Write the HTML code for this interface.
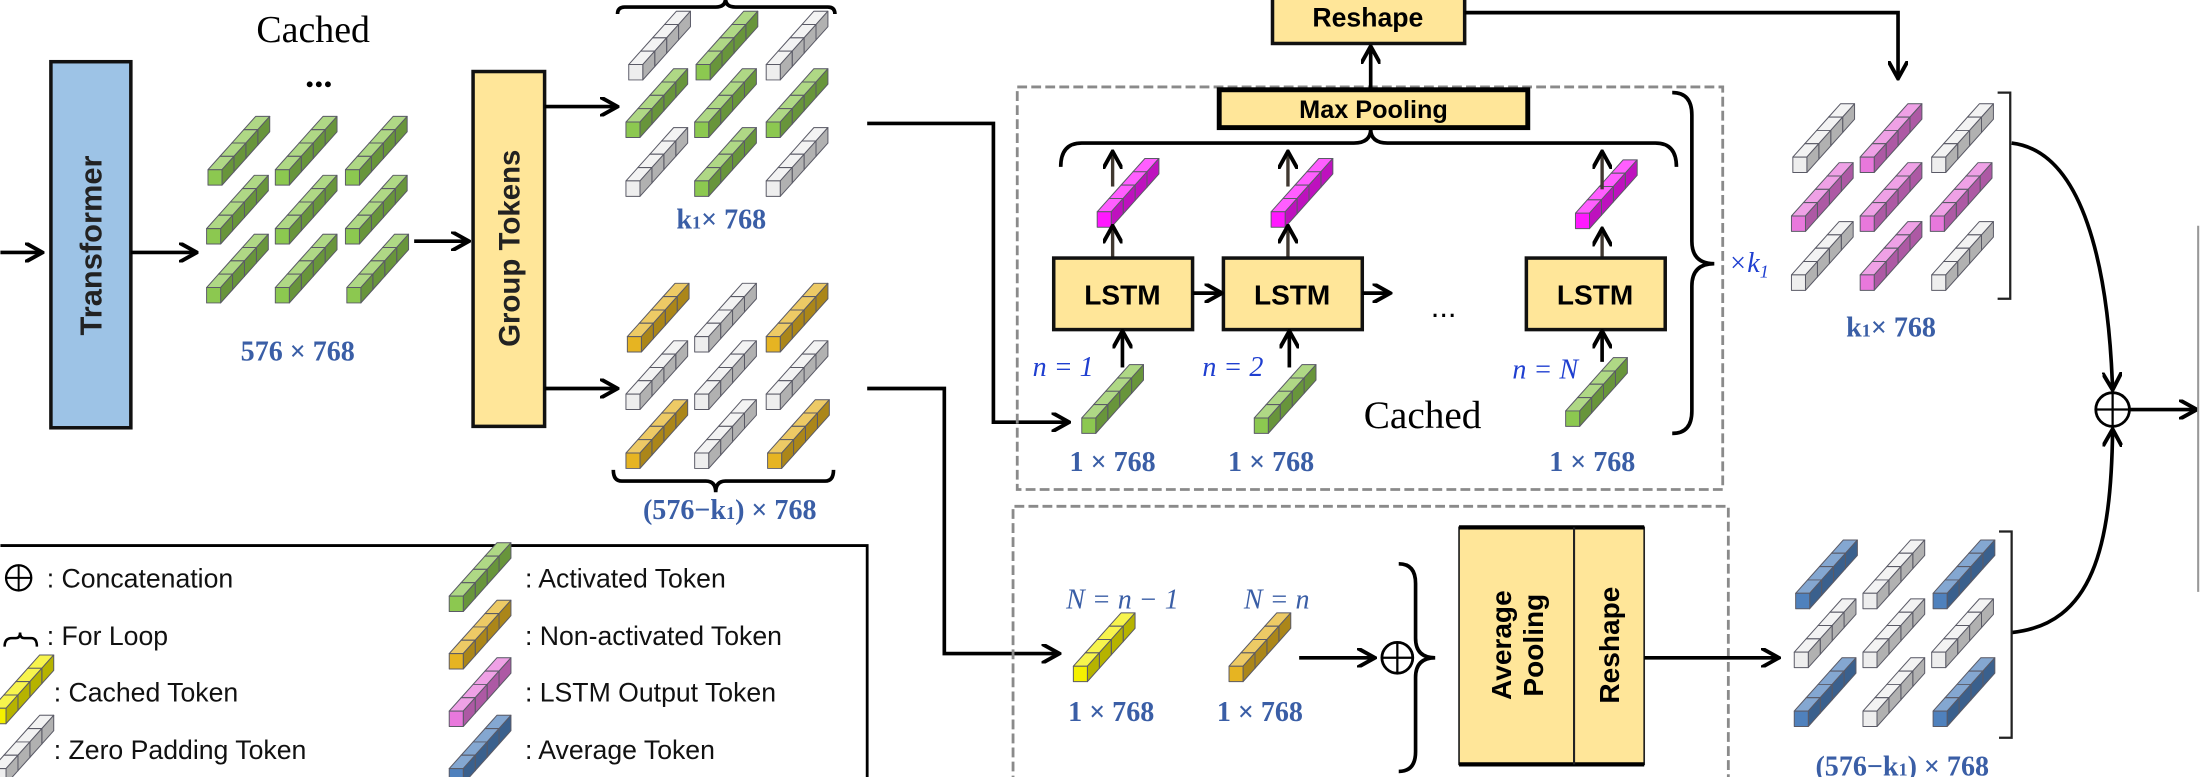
<!DOCTYPE html>
<html><head><meta charset="utf-8"><style>
html,body{margin:0;padding:0;background:#fff;}
svg{display:block;}
.sans{font-family:"Liberation Sans",Arial,sans-serif;}
.serif{font-family:"Liberation Serif","Times New Roman",serif;}
.dim{font-family:"Liberation Serif",serif;fill:#3a5ea6;font-size:20px;font-weight:bold;}
.ln{stroke:#000;stroke-width:2.6;fill:none;}
.box{stroke:#111;stroke-width:2.5;}
</style></head><body>
<svg width="2200" height="777" viewBox="0 0 1568 554" xmlns="http://www.w3.org/2000/svg">
<defs>
<marker id="ar" viewBox="0 0 10 10" refX="9" refY="5" markerWidth="5" markerHeight="5" orient="auto" markerUnits="userSpaceOnUse" style="overflow:visible">
<path d="M0,0 L9,5 L0,10" fill="none" stroke="#000" stroke-width="2.2"/>
</marker>
<marker id="ar2" viewBox="0 0 10 10" refX="9" refY="5" markerWidth="14" markerHeight="14" orient="auto" markerUnits="userSpaceOnUse">
<path d="M0,0 L9,5 L0,10" fill="none" stroke="#000" stroke-width="2"/>
</marker>
<g id="bar" stroke="#5a5a66" stroke-width="0.7" stroke-linejoin="round">
<polygon points="25.5,9.5 35.5,9.5 44,0 34,0" fill="currentColor"/><polygon points="25.5,9.5 35.5,9.5 44,0 34,0" fill="#fff" opacity="0.3"/>
<polygon points="35.5,20.5 35.5,9.5 44,0 44,11" fill="currentColor"/><polygon points="35.5,20.5 35.5,9.5 44,0 44,11" fill="#000" opacity="0.25"/>
<rect x="25.5" y="9.5" width="10" height="11" fill="currentColor"/>
<polygon points="17,19 27,19 35.5,9.5 25.5,9.5" fill="currentColor"/><polygon points="17,19 27,19 35.5,9.5 25.5,9.5" fill="#fff" opacity="0.3"/>
<polygon points="27,30 27,19 35.5,9.5 35.5,20.5" fill="currentColor"/><polygon points="27,30 27,19 35.5,9.5 35.5,20.5" fill="#000" opacity="0.25"/>
<rect x="17" y="19" width="10" height="11" fill="currentColor"/>
<polygon points="8.5,28.5 18.5,28.5 27,19 17,19" fill="currentColor"/><polygon points="8.5,28.5 18.5,28.5 27,19 17,19" fill="#fff" opacity="0.3"/>
<polygon points="18.5,39.5 18.5,28.5 27,19 27,30" fill="currentColor"/><polygon points="18.5,39.5 18.5,28.5 27,19 27,30" fill="#000" opacity="0.25"/>
<rect x="8.5" y="28.5" width="10" height="11" fill="currentColor"/>
<polygon points="0,38 10,38 18.5,28.5 8.5,28.5" fill="currentColor"/><polygon points="0,38 10,38 18.5,28.5 8.5,28.5" fill="#fff" opacity="0.3"/>
<polygon points="10,49 10,38 18.5,28.5 18.5,39.5" fill="currentColor"/><polygon points="10,49 10,38 18.5,28.5 18.5,39.5" fill="#000" opacity="0.25"/>
<rect x="0" y="38" width="10" height="11" fill="currentColor"/>
</g>
</defs>

<!-- input arrow & transformer -->
<line x1="0" y1="180" x2="30" y2="180" class="ln" marker-end="url(#ar2)"/>
<rect x="36" y="44" width="57" height="261" fill="#9dc3e6" class="box"/>
<text class="sans" font-weight="bold" font-size="22" fill="#222" transform="translate(72,175) rotate(-90)" text-anchor="middle">Transformer</text>
<line x1="93" y1="180" x2="140" y2="180" class="ln" marker-end="url(#ar2)"/>

<text class="serif" font-size="27" x="223" y="30" text-anchor="middle">Cached</text>
<text class="serif" font-size="26" font-weight="bold" x="227" y="62" text-anchor="middle">...</text>

<!-- green grid -->
<g style="color:#8cc850">
<use href="#bar" x="148" y="83"/><use href="#bar" x="196" y="83"/><use href="#bar" x="246" y="83"/>
<use href="#bar" x="147" y="125"/><use href="#bar" x="196" y="125"/><use href="#bar" x="246" y="125"/>
<use href="#bar" x="147" y="167"/><use href="#bar" x="196" y="167"/><use href="#bar" x="247" y="167"/>
</g>
<text class="dim" x="212" y="257" text-anchor="middle">576 × 768</text>
<line x1="295" y1="172" x2="334" y2="172" class="ln" marker-end="url(#ar2)"/>

<rect x="337" y="51" width="51" height="253" fill="#ffe699" class="box"/>
<text class="sans" font-weight="bold" font-size="21" fill="#222" transform="translate(370,177) rotate(-90)" text-anchor="middle">Group Tokens</text>
<line x1="388" y1="76" x2="440" y2="76" class="ln" marker-end="url(#ar2)"/>
<line x1="388" y1="277" x2="440" y2="277" class="ln" marker-end="url(#ar2)"/>

<!-- upper k1 grid -->
<path d="M440,10 q0,-5 5,-5 L510,5 q7,0 7,-6 q0,6 7,6 L590,5 q5,0 5,5" class="ln" stroke-width="2.2"/>
<use href="#bar" x="448" y="8" style="color:#eeeeee"/><use href="#bar" x="496" y="8" style="color:#8cc850"/><use href="#bar" x="546" y="8" style="color:#eeeeee"/>
<use href="#bar" x="446" y="49" style="color:#8cc850"/><use href="#bar" x="495" y="49" style="color:#8cc850"/><use href="#bar" x="546" y="49" style="color:#8cc850"/>
<use href="#bar" x="446" y="91" style="color:#eeeeee"/><use href="#bar" x="495" y="91" style="color:#8cc850"/><use href="#bar" x="546" y="91" style="color:#eeeeee"/>
<text class="dim" x="514" y="163" text-anchor="middle">k<tspan font-size="13">1</tspan>× 768</text>

<!-- lower grid -->
<use href="#bar" x="447" y="202" style="color:#e6b422"/><use href="#bar" x="495" y="202" style="color:#eeeeee"/><use href="#bar" x="546" y="202" style="color:#e6b422"/>
<use href="#bar" x="446" y="243" style="color:#eeeeee"/><use href="#bar" x="495" y="243" style="color:#eeeeee"/><use href="#bar" x="546" y="243" style="color:#eeeeee"/>
<use href="#bar" x="446" y="285" style="color:#e6b422"/><use href="#bar" x="495" y="285" style="color:#eeeeee"/><use href="#bar" x="547" y="285" style="color:#e6b422"/>
<path d="M437,335 q0,8 6,8 L503,343 q7,0 7,8 q0,-8 7,-8 L588,343 q6,0 6,-8" class="ln" stroke-width="2.2"/>
<text class="dim" x="520" y="370" text-anchor="middle">(576−k<tspan font-size="13">1</tspan>) × 768</text>

<!-- connectors from grids -->
<polyline points="618,88 708,88 708,301 762,301" class="ln" marker-end="url(#ar2)"/>
<polyline points="618,277 673,277 673,466 755,466" class="ln" marker-end="url(#ar2)"/>

<!-- upper dashed box -->
<rect x="725" y="62" width="503" height="287" fill="none" stroke="#8a8a8a" stroke-width="2" stroke-dasharray="7,3"/>
<rect x="907" y="-4" width="137" height="35" fill="#ffe699" class="box"/>
<text class="sans" font-weight="bold" font-size="19" x="975" y="19" text-anchor="middle">Reshape</text>
<line x1="977" y1="64" x2="977" y2="33" class="ln" marker-end="url(#ar2)"/>
<polyline points="1044,9 1353,9 1353,56" class="ln" marker-end="url(#ar2)"/>
<rect x="869" y="64" width="220" height="27" fill="#ffe699" stroke="#000" stroke-width="3.5"/>
<text class="sans" font-weight="bold" font-size="18" x="979" y="84" text-anchor="middle">Max Pooling</text>
<path d="M756,119 q0,-17 15,-17 L965,102 q12,0 12,-10 q0,10 12,10 L1180,102 q15,0 15,17" class="ln"/>

<!-- magenta -->
<g style="color:#ff18ff">
<use href="#bar" x="782" y="113"/><use href="#bar" x="906" y="113"/><use href="#bar" x="1123" y="114"/>
</g>
<g stroke="#403830" stroke-width="2.4">
<line x1="793" y1="133" x2="793" y2="108" marker-end="url(#ar2)"/>
<line x1="918" y1="133" x2="918" y2="108" marker-end="url(#ar2)"/>
<line x1="1142" y1="135" x2="1142" y2="108" marker-end="url(#ar2)"/>
<line x1="793" y1="184" x2="793" y2="161" marker-end="url(#ar2)"/>
<line x1="918" y1="184" x2="918" y2="161" marker-end="url(#ar2)"/>
<line x1="1142" y1="184" x2="1142" y2="163" marker-end="url(#ar2)"/>
</g>

<!-- LSTM -->
<rect x="751" y="184" width="99" height="51" fill="#ffe699" class="box"/>
<rect x="872" y="184" width="99" height="51" fill="#ffe699" class="box"/>
<rect x="1088" y="184" width="99" height="51" fill="#ffe699" class="box"/>
<g class="sans" font-weight="bold" font-size="20" text-anchor="middle">
<text x="800" y="217">LSTM</text><text x="921" y="217">LSTM</text><text x="1137" y="217">LSTM</text>
</g>
<line x1="850" y1="209" x2="871" y2="209" class="ln" marker-end="url(#ar2)"/>
<line x1="971" y1="209" x2="991" y2="209" class="ln" marker-end="url(#ar2)"/>
<text class="sans" font-size="22" x="1029" y="226" text-anchor="middle">...</text>

<!-- input green bars -->
<line x1="800" y1="262" x2="800" y2="236" class="ln" marker-end="url(#ar2)"/>
<line x1="919" y1="262" x2="919" y2="236" class="ln" marker-end="url(#ar2)"/>
<line x1="1142" y1="258" x2="1142" y2="236" class="ln" marker-end="url(#ar2)"/>
<g style="color:#8cc850">
<use href="#bar" x="771" y="260"/><use href="#bar" x="894" y="260"/><use href="#bar" x="1116" y="255"/>
</g>
<g class="serif" font-style="italic" font-size="20" fill="#1f3fd0">
<text x="736" y="268">n = 1</text><text x="857" y="268">n = 2</text><text x="1078" y="270">n = N</text>
</g>
<text class="serif" font-size="28" x="1014" y="305" text-anchor="middle">Cached</text>
<g class="dim" text-anchor="middle"><text x="793" y="336">1 × 768</text><text x="906" y="336">1 × 768</text><text x="1135" y="336">1 × 768</text></g>

<path d="M1192,66 q14,0 14,16 L1206,172 q0,16 16,16 q-16,0 -16,16 L1206,293 q0,16 -14,16" class="ln"/>
<text class="serif" font-style="italic" font-size="20" fill="#1f3fd0" x="1232" y="194">×k<tspan font-size="13" dy="4">1</tspan></text>

<!-- pink grid -->
<use href="#bar" x="1278" y="74" style="color:#eeeeee"/><use href="#bar" x="1326" y="74" style="color:#e878dc"/><use href="#bar" x="1377" y="74" style="color:#eeeeee"/>
<use href="#bar" x="1277" y="116" style="color:#e878dc"/><use href="#bar" x="1326" y="116" style="color:#e878dc"/><use href="#bar" x="1376" y="116" style="color:#e878dc"/>
<use href="#bar" x="1277" y="158" style="color:#eeeeee"/><use href="#bar" x="1326" y="158" style="color:#e878dc"/><use href="#bar" x="1377" y="158" style="color:#eeeeee"/>
<polyline points="1424,66 1433,66 1433,213 1424,213" fill="none" stroke="#222" stroke-width="1.6"/>
<text class="dim" x="1348" y="240" text-anchor="middle">k<tspan font-size="13">1</tspan>× 768</text>

<!-- concat -->
<path d="M1434,102 C1485,108 1503,190 1506,278" class="ln" marker-end="url(#ar2)"/>
<path d="M1434,451 C1492,445 1505,390 1506,306" class="ln" marker-end="url(#ar2)"/>
<circle cx="1506" cy="292" r="12" fill="#fff" stroke="#000" stroke-width="2"/>
<line x1="1494" y1="292" x2="1518" y2="292" stroke="#000" stroke-width="1.6"/>
<line x1="1506" y1="280" x2="1506" y2="304" stroke="#000" stroke-width="1.6"/>
<line x1="1518" y1="292" x2="1566" y2="292" class="ln" marker-end="url(#ar2)"/>
<line x1="1567" y1="161" x2="1567" y2="422" stroke="#999" stroke-width="1.5"/>

<!-- lower dashed box -->
<path d="M722,560 L722,361 L1232,361 L1232,560" fill="none" stroke="#8a8a8a" stroke-width="2" stroke-dasharray="7,3"/>
<text class="serif" font-style="italic" font-size="20" fill="#3a5ea6" x="800" y="434" text-anchor="middle">N = n − 1</text>
<text class="serif" font-style="italic" font-size="20" fill="#3a5ea6" x="910" y="434" text-anchor="middle">N = n</text>
<use href="#bar" x="765" y="437" style="color:#f4f000"/>
<use href="#bar" x="876" y="437" style="color:#e6b422"/>
<g class="dim" text-anchor="middle"><text x="792" y="514">1 × 768</text><text x="898" y="514">1 × 768</text></g>
<line x1="926" y1="469" x2="980" y2="469" class="ln" marker-end="url(#ar2)"/>
<circle cx="996" cy="469" r="11" fill="#fff" stroke="#000" stroke-width="2"/>
<line x1="985" y1="469" x2="1007" y2="469" stroke="#000" stroke-width="1.6"/>
<line x1="996" y1="458" x2="996" y2="480" stroke="#000" stroke-width="1.6"/>
<path d="M997,402 q12,0 12,14 L1009,455 q0,14 14,14 q-14,0 -14,14 L1009,536 q0,14 -12,14" class="ln"/>
<rect x="1040" y="376" width="132" height="169" fill="#ffe699" stroke="#222" stroke-width="1.2"/>
<line x1="1040" y1="376" x2="1172" y2="376" stroke="#000" stroke-width="3"/>
<line x1="1040" y1="545" x2="1172" y2="545" stroke="#000" stroke-width="3"/>
<line x1="1122" y1="376" x2="1122" y2="545" stroke="#222" stroke-width="1.5"/>
<g class="sans" font-weight="bold" font-size="20" text-anchor="middle">
<text transform="translate(1077,460) rotate(-90)">Average</text>
<text transform="translate(1100,460) rotate(-90)">Pooling</text>
<text transform="translate(1154,460) rotate(-90)">Reshape</text>
</g>
<line x1="1172" y1="469" x2="1268" y2="469" class="ln" marker-end="url(#ar2)"/>

<!-- blue grid -->
<use href="#bar" x="1280" y="385" style="color:#4f81bd"/><use href="#bar" x="1328" y="385" style="color:#eeeeee"/><use href="#bar" x="1378" y="385" style="color:#4f81bd"/>
<use href="#bar" x="1279" y="427" style="color:#eeeeee"/><use href="#bar" x="1328" y="427" style="color:#eeeeee"/><use href="#bar" x="1377" y="427" style="color:#eeeeee"/>
<use href="#bar" x="1279" y="469" style="color:#4f81bd"/><use href="#bar" x="1328" y="469" style="color:#eeeeee"/><use href="#bar" x="1378" y="469" style="color:#4f81bd"/>
<polyline points="1425,379 1434,379 1434,526 1425,526" fill="none" stroke="#222" stroke-width="1.6"/>
<text class="dim" x="1356" y="553" text-anchor="middle">(576−k<tspan font-size="13">1</tspan>) × 768</text>

<!-- legend -->
<polyline points="0,389 618,389 618,560" fill="none" stroke="#000" stroke-width="2"/>
<circle cx="13" cy="412" r="9" fill="none" stroke="#000" stroke-width="1.6"/>
<line x1="4" y1="412" x2="22" y2="412" stroke="#000" stroke-width="1.4"/>
<line x1="13" y1="403" x2="13" y2="421" stroke="#000" stroke-width="1.4"/>
<path d="M3,461 q0,-6 5,-6 L11,455 q3,0 3,-4 q0,4 3,4 L22,455 q4,0 4,6" fill="none" stroke="#000" stroke-width="1.8"/>
<use href="#bar" x="-6" y="467" style="color:#f4f000"/>
<use href="#bar" x="-6" y="510" style="color:#eeeeee"/>
<use href="#bar" x="320" y="387" style="color:#8cc850"/>
<use href="#bar" x="320" y="428" style="color:#e6b422"/>
<use href="#bar" x="320" y="469" style="color:#e878dc"/>
<use href="#bar" x="320" y="510" style="color:#4f81bd"/>
<g class="sans" font-size="19" fill="#111">
<text x="33" y="419">: Concatenation</text>
<text x="33" y="460">: For Loop</text>
<text x="38" y="500">: Cached Token</text>
<text x="38" y="541">: Zero Padding Token</text>
<text x="374" y="419">: Activated Token</text>
<text x="374" y="460">: Non-activated Token</text>
<text x="374" y="500">: LSTM Output Token</text>
<text x="374" y="541">: Average Token</text>
</g>
</svg>
</body></html>
